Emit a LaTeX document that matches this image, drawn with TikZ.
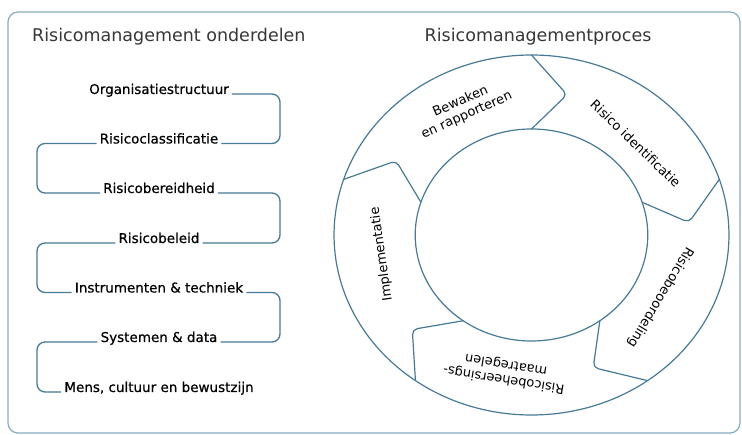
\documentclass[tikz,border=0pt]{standalone}
\usepackage{fontspec}
\setmainfont{DejaVu Sans}
\newfontfamily\halfvet[FakeBold=0.6]{DejaVu Sans}
\definecolor{ringblue}{RGB}{70,122,150}
\definecolor{framegray}{RGB}{135,172,192}
\definecolor{titlegray}{RGB}{55,55,55}

\begin{document}
\begin{tikzpicture}[x=1pt,y=-1pt,
  part/.style={font=\halfvet\fontsize{13.5}{15}\selectfont, inner xsep=3pt, inner ysep=1pt, anchor=base},
  bracket/.style={draw=ringblue, line width=1.3pt, rounded corners=8pt},
  ring/.style={draw=ringblue, line width=1.2pt},
  fase/.style={font=\fontsize{13}{15}\selectfont, align=center, inner sep=0pt},
  titel/.style={font=\fontsize{17.5}{20}\selectfont, text=titlegray, inner sep=0pt}]

\useasboundingbox (0,0) rectangle (742,435);
\draw[framegray, line width=1.2pt, rounded corners=10pt] (8,12) rectangle (740,433);

\node[titel, anchor=base west] (titelL) at (32,42) {Risicomanagement onderdelen};
\node[titel, anchor=base] (titelR) at (538,42) {Risicomanagementproces};

% onderdelen
\node[part] (org) at (159,94) {Organisatiestructuur};
\node[part] (cla) at (159,143.5) {Risicoclassificatie};
\node[part] (ber) at (159,193) {Risicobereidheid};
\node[part] (bel) at (159,243) {Risicobeleid};
\node[part] (ins) at (159,292.5) {Instrumenten \& techniek};
\node[part] (sys) at (159,342) {Systemen \& data};
\node[part] (mens) at (159,392) {Mens, cultuur en bewustzijn};

\coordinate (rechts) at (280,0);
\coordinate (links) at (37,0);

\draw[bracket] (org.base east) -- (rechts |- org.base east) -- (rechts |- cla.base east) -- (cla.base east);
\draw[bracket] (ber.base east) -- (rechts |- ber.base east) -- (rechts |- bel.base east) -- (bel.base east);
\draw[bracket] (ins.base east) -- (rechts |- ins.base east) -- (rechts |- sys.base east) -- (sys.base east);

\draw[bracket] (cla.base west) -- (links |- cla.base west) -- (links |- ber.base west) -- (ber.base west);
\draw[bracket] (bel.base west) -- (links |- bel.base west) -- (links |- ins.base west) -- (ins.base west);
\draw[bracket] (sys.base west) -- (links |- sys.base west) -- (links |- mens.base west) -- (mens.base west);

% proces
\begin{scope}[shift={(531.5,235)}, xscale=1.097, yscale=-1]
\draw[ring] (0,0) circle (180);
\draw[ring] (0,0) circle (106);
\foreach \a in {90,18,-54,-126,162}
  \draw[ring, rounded corners=5pt] (\a:180) -- (\a-13:144) -- (\a:106);

\node[fase, rotate=24] (bewaken) at (116:141) {Bewaken\\en rapporteren};
\node[fase, rotate=-44] (identificatie) at (44:132) {Risico identificatie};
\node[fase, rotate=-121] (beoordeling) at (-28:133) {Risicobeoordeling};
\node[fase, rotate=171] (beheersing) at (-100:139) {Risicobeheersings-\\maatregelen};
\node[fase, rotate=98] (implementatie) at (188:138) {Implementatie};
\end{scope}

\end{tikzpicture}
\end{document}
